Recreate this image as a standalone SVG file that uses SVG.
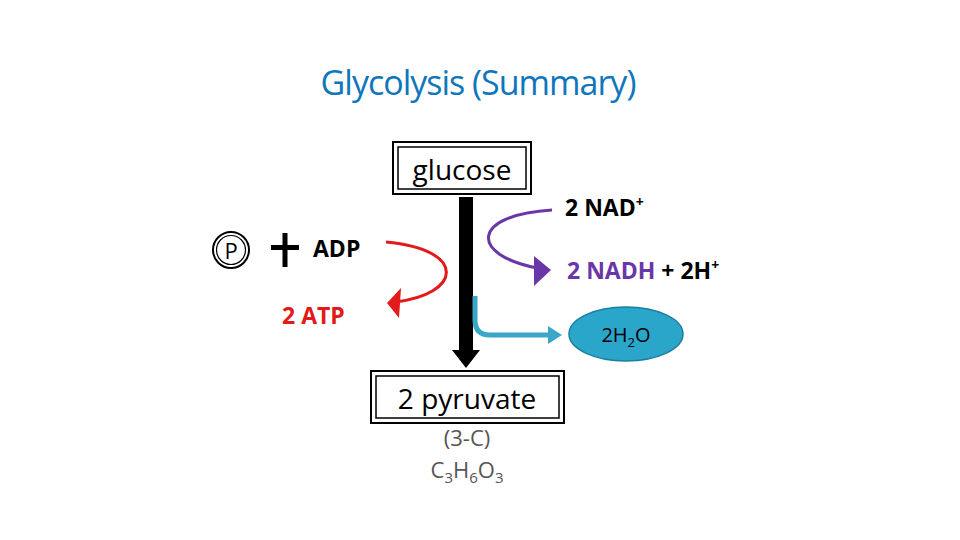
<svg xmlns="http://www.w3.org/2000/svg" width="960" height="540" viewBox="0 0 960 540">
<style>
.t{font-family:"Open Sans","Liberation Sans",sans-serif}
.b{font-family:"Open Sans","Liberation Sans",sans-serif;font-weight:bold}
.box{fill:#fff;stroke:#000;stroke-width:2}
.inner{fill:none;stroke:#000;stroke-width:1.5}
</style>
<rect width="960" height="540" fill="#fff"/>
<text x="478" y="95" text-anchor="middle" class="t" font-size="34" fill="#0e76bd" letter-spacing="-1">Glycolysis (Summary)</text>
<g id="connectors">
<rect x="459" y="197" width="14" height="155" fill="#000"/>
<polygon points="452,350 480,350 466,368" fill="#000"/>
<path d="M386,242 C470,250 460,295 395,302" fill="none" stroke="#e21a1a" stroke-width="3"/>
<polygon points="387,303 401,288 399,318" fill="#e21a1a"/>
<path d="M552,210 C470,215 470,255 537,268" fill="none" stroke="#6b36a8" stroke-width="3"/>
<polygon points="534,256 551,270 534,286" fill="#6b36a8"/>
<path d="M475,296 L475,320 Q475,335 490,335 L550,335" fill="none" stroke="#3aa7c9" stroke-width="5"/>
<polygon points="548,326 562,335 548,344" fill="#3aa7c9"/>
</g>
<g id="glucose"><rect class="box" x="393" y="142" width="138" height="52"/><rect class="inner" x="398" y="147" width="128" height="42"/><text x="462" y="180" text-anchor="middle" class="t" font-size="28">glucose</text></g>
<g id="pyruvate"><rect class="box" x="371" y="371" width="193" height="52"/><rect class="inner" x="376" y="376" width="183" height="42"/><text x="467" y="409" text-anchor="middle" class="t" font-size="28">2 pyruvate</text></g>
<g id="formula"><text x="467" y="446" text-anchor="middle" class="t" font-size="22" fill="#555">(3-C)</text>
<text x="467" y="478" text-anchor="middle" class="t" font-size="22" fill="#555">C<tspan font-size="15" dy="5">3</tspan><tspan dy="-5">H</tspan><tspan font-size="15" dy="5">6</tspan><tspan dy="-5">O</tspan><tspan font-size="15" dy="5">3</tspan></text></g>
<g id="p-adp"><circle cx="231" cy="250" r="18" fill="none" stroke="#000" stroke-width="2"/><circle cx="231" cy="250" r="14.5" fill="none" stroke="#000" stroke-width="1.2"/><text x="231" y="259" text-anchor="middle" class="t" font-size="22">P</text>
<rect x="271" y="245" width="28" height="5" fill="#000"/><rect x="282.5" y="233" width="5" height="34" fill="#000"/>
<text x="313" y="257" class="b" font-size="23">ADP</text></g>
<g id="atp"><text x="282" y="324" class="b" font-size="23" fill="#e21a1a">2 ATP</text></g>
<g id="nad"><text x="565" y="216" class="b" font-size="23">2 NAD<tspan font-size="14" dy="-9">+</tspan></text></g>
<g id="nadh"><text x="567" y="279" class="b" font-size="23"><tspan fill="#6b36a8">2 NADH</tspan> + 2H<tspan font-size="14" dy="-9">+</tspan></text></g>
<g id="water"><ellipse cx="626" cy="334" rx="57" ry="27" fill="#2ba6cb" stroke="#1a7e9e" stroke-width="1.5"/><text x="626" y="342" text-anchor="middle" class="t" font-size="20">2H<tspan font-size="13" dy="5">2</tspan><tspan dy="-5">O</tspan></text></g>
</svg>
